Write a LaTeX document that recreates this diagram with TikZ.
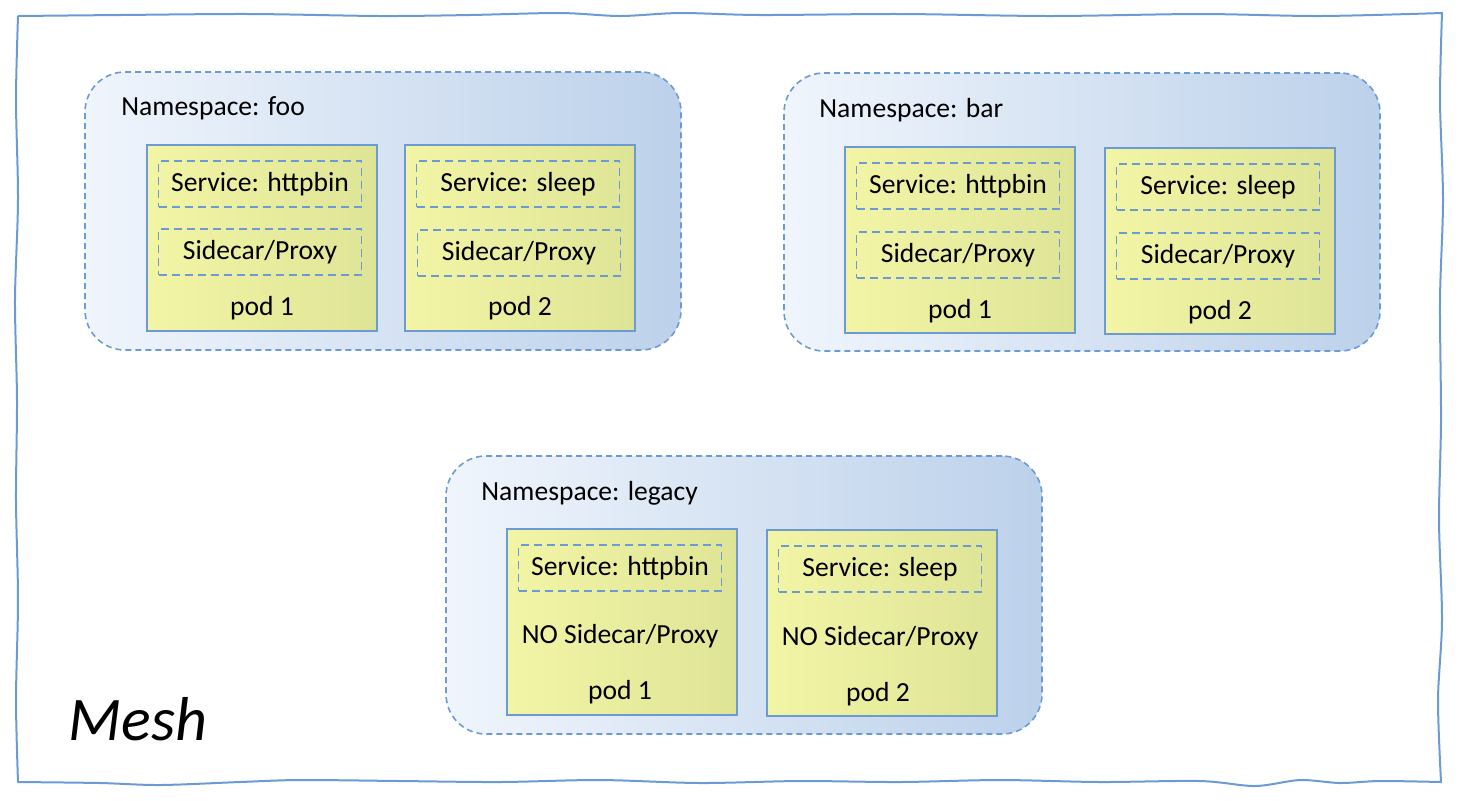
\documentclass[tikz,border=0pt]{standalone}
\usepackage{fontspec}
\setmainfont{Carlito}
\usetikzlibrary{positioning}
\definecolor{meshblue}{RGB}{108,155,212}
\definecolor{nsleft}{RGB}{240,245,252}
\definecolor{nsright}{RGB}{188,209,234}
\definecolor{podleft}{RGB}{243,245,166}
\definecolor{podright}{RGB}{222,228,150}
\begin{document}
\begin{tikzpicture}[x=0.5pt,y=-0.5pt,
  every node/.style={font=\fontsize{13.8}{16}\selectfont},
  meshline/.style={draw=meshblue,line width=1pt,line join=round},
  nsbox/.style={draw=meshblue,dash pattern=on 3pt off 2pt,line width=0.8pt,rounded corners=20pt,
    left color=nsleft,right color=nsright,minimum width=298pt,minimum height=139pt},
  podbox/.style={draw=meshblue,line width=1pt,left color=podleft,right color=podright,
    minimum width=115pt,minimum height=93pt},
  svcbox/.style={draw=meshblue,dash pattern=on 4pt off 2.5pt,line width=0.8pt,
    minimum width=101.5pt,minimum height=23pt,inner sep=0pt}]
\useasboundingbox (0,0) rectangle (1460,800);
% hand drawn mesh border
\draw[meshline] plot[smooth] coordinates {(18,16) (120,15) (250,14) (380,16) (470,15) (560,13) (620,16) (680,13) (760,15) (900,14) (1050,16) (1200,14) (1320,16) (1442,13)}
  -- plot[smooth] coordinates {(1442,13) (1440,100) (1443,200) (1440,300) (1441,420) (1439,520) (1442,620) (1438,700) (1441,782)}
  -- plot[smooth] coordinates {(1441,782) (1380,781) (1340,783) (1300,780) (1255,786) (1200,781) (1100,782) (1000,780) (900,782) (800,781) (700,783) (600,780) (500,782) (400,781) (300,780) (240,782) (160,785) (100,783) (18,782)}
  -- plot[smooth] coordinates {(18,782) (16,700) (18,600) (16,500) (17,400) (15,300) (18,200) (16,100) (18,16)};
\node[anchor=base west,inner sep=0pt,font=\fontsize{31}{36}\selectfont\itshape] (mesh) at (68,740) {Mesh};
% namespace foo
\node[nsbox] (foo) at (383,211) {};
\node[anchor=west,inner sep=0pt] (foolabel) at (121,108) {Namespace: foo};
\node[podbox] (foopodA) at (262,238) {};
\node[svcbox] (foosvcA) at (260,184) {Service: httpbin};
\node[svcbox] (fooproxyA) at (260,252) {Sidecar/Proxy};
\node (foonameA) at (262,308) {pod 1};
\node[podbox] (foopodB) at (520,238) {};
\node[svcbox] (foosvcB) at (518,184) {Service: sleep};
\node[svcbox] (fooproxyB) at (519,253) {Sidecar/Proxy};
\node (foonameB) at (520,308) {pod 2};
% namespace bar
\node[nsbox] (bar) at (1082,212) {};
\node[anchor=west,inner sep=0pt] (barlabel) at (819,110) {Namespace: bar};
\node[podbox] (barpodA) at (960,240) {};
\node[svcbox] (barsvcA) at (958,186) {Service: httpbin};
\node[svcbox] (barproxyA) at (958,255) {Sidecar/Proxy};
\node (barnameA) at (960,311) {pod 1};
\node[podbox] (barpodB) at (1220,241) {};
\node[svcbox] (barsvcB) at (1218,187) {Service: sleep};
\node[svcbox] (barproxyB) at (1218,256) {Sidecar/Proxy};
\node (barnameB) at (1220,312) {pod 2};
% namespace legacy
\node[nsbox] (legacy) at (744,595) {};
\node[anchor=west,inner sep=0pt] (legacylabel) at (481,493) {Namespace: legacy};
\node[podbox] (legacypodA) at (622,622) {};
\node[svcbox] (legacysvcA) at (620,568) {Service: httpbin};
\node (legacyproxyA) at (620,636) {NO Sidecar/Proxy};
\node (legacynameA) at (620,692) {pod 1};
\node[podbox] (legacypodB) at (882,623) {};
\node[svcbox] (legacysvcB) at (880,569) {Service: sleep};
\node (legacyproxyB) at (880,638) {NO Sidecar/Proxy};
\node (legacynameB) at (878,694) {pod 2};
\end{tikzpicture}
\end{document}
